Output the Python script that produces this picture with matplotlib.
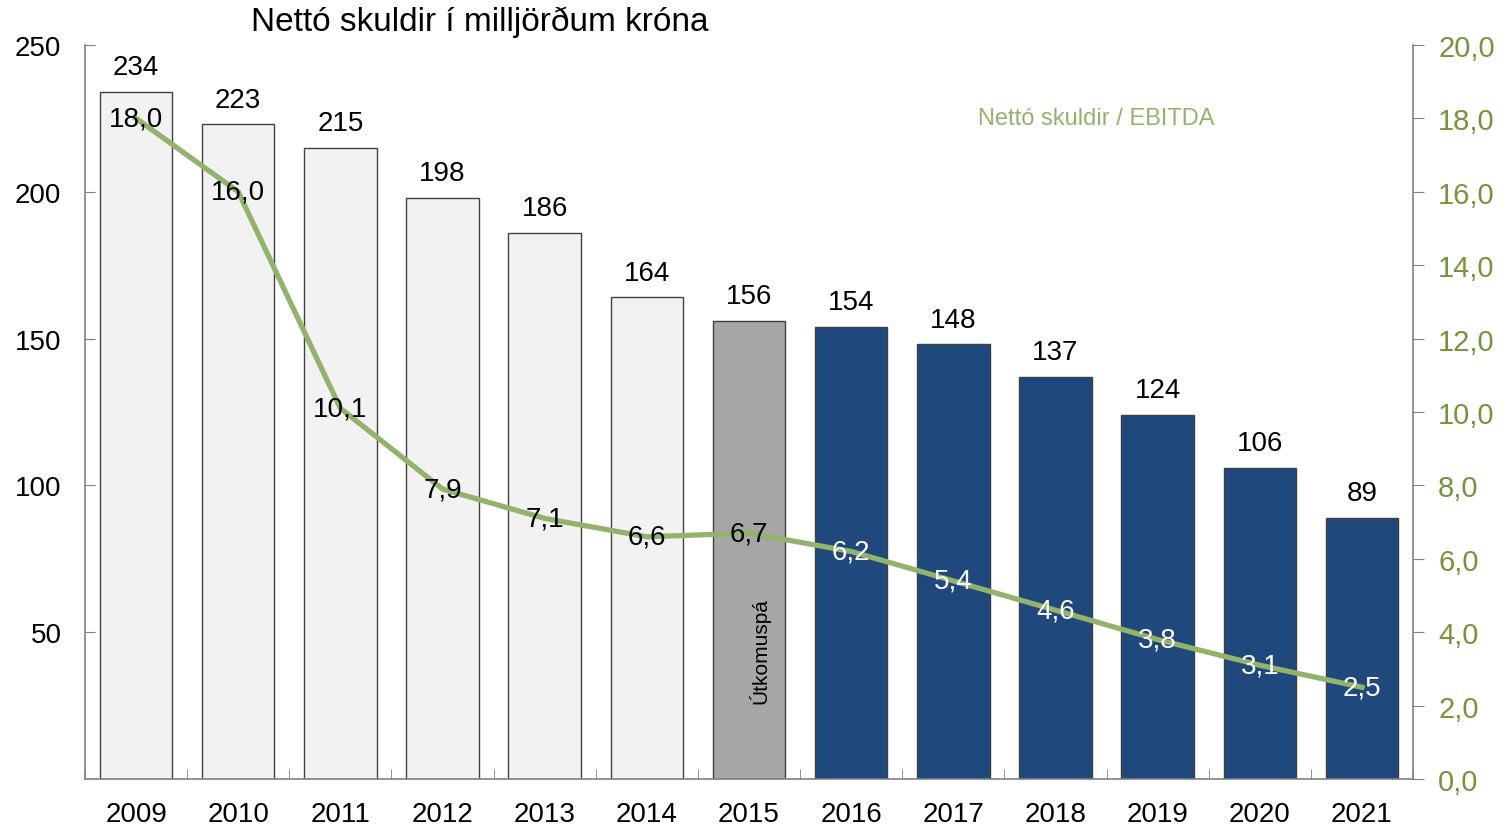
import matplotlib.pyplot as plt
import numpy as np

plt.rcParams['font.family'] = ['Liberation Sans', 'DejaVu Sans']

years = ['2009', '2010', '2011', '2012', '2013', '2014', '2015',
         '2016', '2017', '2018', '2019', '2020', '2021']
debt = [234, 223, 215, 198, 186, 164, 156, 154, 148, 137, 124, 106, 89]
ratio = [18.0, 16.0, 10.1, 7.9, 7.1, 6.6, 6.7, 6.2, 5.4, 4.6, 3.8, 3.1, 2.5]
ratio_labels = ['18,0', '16,0', '10,1', '7,9', '7,1', '6,6', '6,7',
                '6,2', '5,4', '4,6', '3,8', '3,1', '2,5']

light = '#F2F2F2'
mid = '#A6A6A6'
blue = '#1F497D'
green = '#93B36C'
green_txt = '#77933C'
axis_col = '#808080'

bar_colors = [light] * 6 + [mid] + [blue] * 6
label_colors = ['black'] * 7 + ['white'] * 6

fig = plt.figure(figsize=(15.05, 8.28), dpi=100)
ax = fig.add_axes([85 / 1505, 48 / 828, 1328 / 1505, 734 / 828])
x = np.arange(len(years))

ax.bar(x, debt, width=0.71, color=bar_colors, edgecolor='#404040',
       linewidth=1.0, zorder=2)
for xi, v in zip(x, debt):
    ax.text(xi, v + 4, str(v), ha='center', va='bottom', fontsize=20)

ax.set_xlim(-0.5, len(years) - 0.5)
ax.set_ylim(0, 250)
ax.set_yticks([50, 100, 150, 200, 250])
ax.set_yticklabels(['50', '100', '150', '200', '250'])
ax.tick_params(axis='y', direction='in', length=7, color=axis_col,
               labelsize=20, pad=17)
ax.set_xticks(x)
ax.set_xticklabels(years)
ax.tick_params(axis='x', length=0, labelsize=20, pad=16)
ax.set_xticks(np.arange(-0.5, len(years), 1), minor=True)
ax.tick_params(axis='x', which='minor', direction='in', length=7,
               color=axis_col)
for s in ['top', 'right']:
    ax.spines[s].set_visible(False)
for s in ['left', 'bottom']:
    ax.spines[s].set_color(axis_col)
    ax.spines[s].set_linewidth(1.2)

ax.text(6.1, 26, 'Útkomuspá', rotation=90, ha='center', va='bottom',
        fontsize=15)

ax2 = ax.twinx()
ax2.plot(x, ratio, color=green, linewidth=3.8, zorder=3)
for xi, v, lab, c in zip(x, ratio, ratio_labels, label_colors):
    ax2.text(xi, v, lab, ha='center', va='center', fontsize=20, color=c,
             zorder=4)
ax2.set_ylim(0, 20)
ax2.set_yticks(np.arange(0, 21, 2))
ax2.set_yticklabels([f'{t},0' for t in range(0, 21, 2)])
ax2.tick_params(axis='y', direction='out', length=8, color=axis_col,
                labelsize=21, labelcolor=green_txt, pad=10)
for s in ['top', 'left', 'bottom']:
    ax2.spines[s].set_visible(False)
ax2.spines['right'].set_color(axis_col)
ax2.spines['right'].set_linewidth(1.2)

ax2.text(9.4, 18.0, 'Nettó skuldir / EBITDA', ha='center', va='center',
         fontsize=17, color=green)
fig.text(480 / 1505, 1 - 22 / 828, 'Nettó skuldir í milljörðum króna',
         ha='center', va='center', fontsize=24)

fig.savefig('out.png', dpi=100)
